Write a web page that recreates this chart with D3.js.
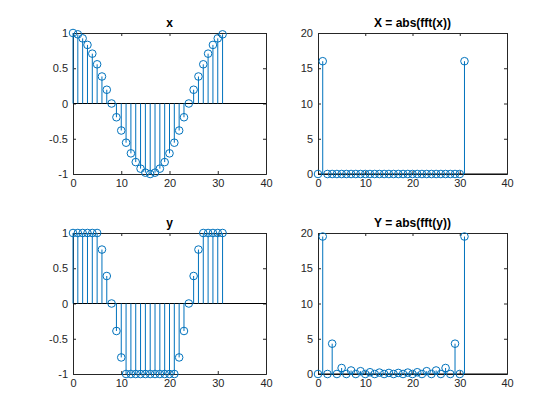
<!DOCTYPE html><html><head><meta charset="utf-8"><script src="https://cdn.jsdelivr.net/npm/d3@7"></script>
<style>body{margin:0;background:#fff}</style></head><body><svg id="c" width="560" height="420"></svg><script>
const n = d3.range(32);
const xVals = [1,0.981,0.924,0.831,0.707,0.556,0.383,0.195,0,-0.195,-0.383,-0.556,-0.707,-0.831,-0.924,-0.981,-1,-0.981,-0.924,-0.831,-0.707,-0.556,-0.383,-0.195,0,0.195,0.383,0.556,0.707,0.831,0.924,0.981];
const XVals = [0,16,0,0,0,0,0,0,0,0,0,0,0,0,0,0,0,0,0,0,0,0,0,0,0,0,0,0,0,0,0,16];
const yVals = [1,1,1,1,1,1,0.765,0.39,0,-0.39,-0.765,-1,-1,-1,-1,-1,-1,-1,-1,-1,-1,-1,-0.765,-0.39,0,0.39,0.765,1,1,1,1,1];
const YVals = [0,19.5,0,4.3,0,0.85,0,0.5,0,0.4,0,0.25,0,0.2,0,0.15,0,0.15,0,0.2,0,0.25,0,0.4,0,0.5,0,0.85,0,4.3,0,19.5];
const xTicks = [0,10,20,30,40];
const sigTicks = [-1,-0.5,0,0.5,1];
const magTicks = [0,5,10,15,20];
const svg = d3.select("#c");
const col = "#0072BD";
function panel(L,T,W,H,vals,ydom,yt,title){
  const g = svg.append("g");
  const x = d3.scaleLinear().domain([0,40]).range([L,L+W]);
  const y = d3.scaleLinear().domain(ydom).range([T+H,T]);
  const ax = d3.axisBottom(x).tickValues(xTicks).tickSizeInner(-3).tickSizeOuter(0).tickPadding(5);
  const ay = d3.axisLeft(y).tickValues(yt).tickSizeInner(-3).tickSizeOuter(0).tickPadding(5).tickFormat(d=>String(d));
  g.append("g").attr("transform",`translate(0,${T+H})`).call(ax);
  g.append("g").attr("transform",`translate(${L},0)`).call(ay);
  g.append("g").attr("transform",`translate(0,${T})`).call(d3.axisTop(x).tickValues(xTicks).tickSize(-3).tickFormat(""));
  g.append("g").attr("transform",`translate(${L+W},0)`).call(d3.axisRight(y).tickValues(yt).tickSize(-3).tickFormat(""));
  g.selectAll(".domain,.tick line").attr("stroke","#262626");
  g.selectAll(".tick text").attr("fill","#262626").attr("font-family","Liberation Sans, Arial").attr("font-size",11);
  g.append("line").attr("x1",L).attr("x2",L+W).attr("y1",y(0)).attr("y2",y(0)).attr("stroke","#000");
  g.selectAll(".s").data(vals).join("line").attr("x1",(d,i)=>x(n[i])).attr("x2",(d,i)=>x(n[i]))
    .attr("y1",y(0)).attr("y2",d=>y(d)).attr("stroke",col).attr("stroke-width",1);
  g.selectAll(".m").data(vals).join("circle").attr("cx",(d,i)=>x(n[i])).attr("cy",d=>y(d)).attr("r",3.8)
    .attr("fill","none").attr("stroke",col);
  g.append("text").attr("x",L+W/2).attr("y",T-6).attr("text-anchor","middle").attr("font-weight","bold")
    .attr("font-family","Liberation Sans, Arial").attr("font-size",12).attr("fill","#000").text(title);
}
panel(73,33,193,141,xVals,[-1,1],sigTicks,"x");
panel(318,33,189,141,XVals,[0,20],magTicks,"X = abs(fft(x))");
panel(73,233,193,141,yVals,[-1,1],sigTicks,"y");
panel(318,233,189,141,YVals,[0,20],magTicks,"Y = abs(fft(y))");
</script></body></html>
